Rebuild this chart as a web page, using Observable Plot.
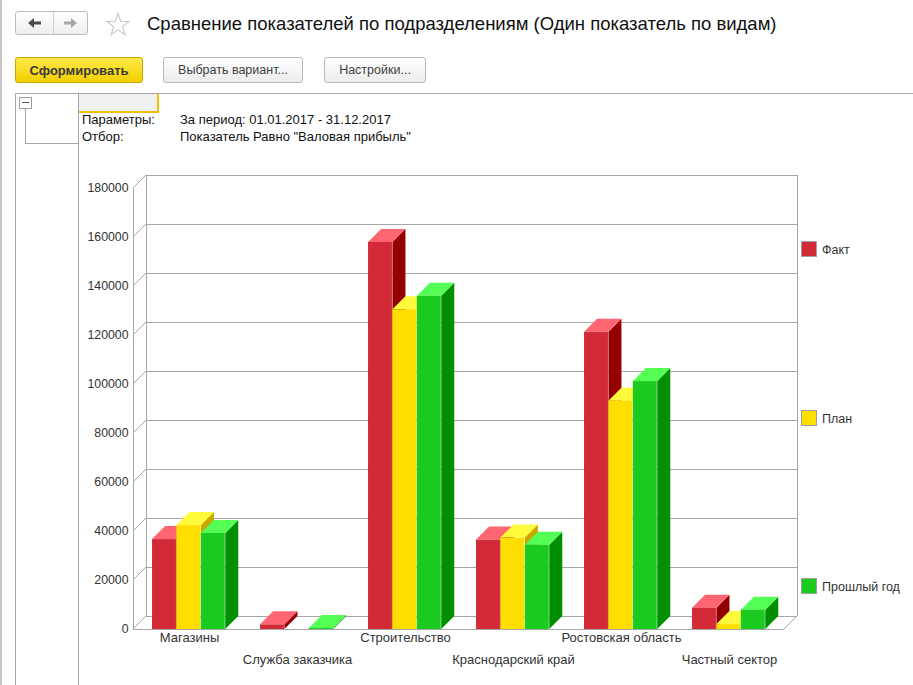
<!DOCTYPE html>
<html>
<head>
<meta charset="utf-8">
<script src="https://cdn.jsdelivr.net/npm/d3@7"></script>
<script src="https://cdn.jsdelivr.net/npm/@observablehq/plot@0.6"></script>
<style>
  html, body { margin: 0; padding: 0; background: #fff; }
  body { width: 913px; height: 685px; position: relative; overflow: hidden;
         font-family: "Liberation Sans", Arial, sans-serif; color: #333; }
  .abs { position: absolute; }
  .btn { position: absolute; border: 1px solid #b9b9b9; border-radius: 3px;
         background: linear-gradient(#ffffff, #ececec); font-size: 12.5px; color: #404040;
         display: flex; align-items: center; justify-content: center; box-sizing: border-box; height: 26px; }
  .btn.primary { background: linear-gradient(#ffe94a, #f3cf00); border-color: #c9a900; font-weight: bold; font-size: 13px; color: #3a3a3a; }
  .hl { position: absolute; height: 1px; background: #a6a6a6; }
  .vl { position: absolute; width: 1px; background: #a6a6a6; }
  .txt { position: absolute; font-size: 13px; line-height: 17px; color: #111; white-space: nowrap; }
  .leg { position: absolute; width: 16px; height: 16px; box-sizing: border-box; border: 1px solid #a0a0a0; }
  .legt { position: absolute; font-size: 12.5px; line-height: 16px; color: #333; white-space: nowrap; }
  #chart { position: absolute; left: 0; top: 160px; }
</style>
</head>
<body>
<div class="abs" style="left:0;top:0;width:2px;height:685px;background:#c6c6c6"></div>

<!-- navigation -->
<div class="abs" style="left:15px;top:11px;width:73px;height:24px;box-sizing:border-box;border:1px solid #bdbdbd;border-radius:3px;background:linear-gradient(#fff,#eeeeee)"></div>
<div class="abs" style="left:53px;top:12px;width:1px;height:22px;background:#d0d0d0"></div>
<svg class="abs" style="left:15px;top:11px" width="73" height="24">
  <path d="M13 12 L19 7 L19 10.5 L26 10.5 L26 13.5 L19 13.5 L19 17 Z" fill="#4a4a4a"/>
  <path d="M62 12 L56 7 L56 10.5 L49 10.5 L49 13.5 L56 13.5 L56 17 Z" fill="#a8a8a8"/>
</svg>
<svg class="abs" style="left:105px;top:12px" width="26" height="25">
  <path d="M13 1.5 L15.8 9.3 L24 9.5 L17.5 14.6 L19.9 22.6 L13 17.9 L6.1 22.6 L8.5 14.6 L2 9.5 L10.2 9.3 Z" fill="none" stroke="#c4c4c4" stroke-width="1.1"/>
</svg>
<div class="abs" style="left:147px;top:14px;font-size:18.5px;line-height:19px;color:#111;white-space:nowrap">Сравнение показателей по подразделениям (Один показатель по видам)</div>

<!-- buttons -->
<div class="btn primary" style="left:15px;top:57px;width:128px">Сформировать</div>
<div class="btn" style="left:163px;top:57px;width:140px">Выбрать вариант...</div>
<div class="btn" style="left:324px;top:57px;width:102px">Настройки...</div>

<!-- report frame -->
<div class="hl" style="left:15px;top:93px;width:898px"></div>
<div class="vl" style="left:15px;top:93px;height:592px"></div>
<div class="vl" style="left:78px;top:93px;height:592px"></div>
<div class="abs" style="left:79px;top:94px;width:78px;height:17px;background:#f1f1f1;border-right:2px solid #f7bd00;border-bottom:2px solid #f7bd00"></div>
<div class="abs" style="left:19px;top:97px;width:13px;height:12px;box-sizing:border-box;border:1px solid #a0a0a0;background:#fff"></div>
<div class="abs" style="left:22px;top:102px;width:7px;height:1px;background:#555"></div>
<div class="vl" style="left:25px;top:109px;height:34px"></div>
<div class="hl" style="left:25px;top:143px;width:53px"></div>

<div class="txt" style="left:82px;top:111px">Параметры:</div>
<div class="txt" style="left:180px;top:111px">За период: 01.01.2017 - 31.12.2017</div>
<div class="txt" style="left:82px;top:128px">Отбор:</div>
<div class="txt" style="left:180px;top:128px">Показатель Равно "Валовая прибыль"</div>

<div id="chart"></div>
<div id="legend"></div>

<script>
// ---- data ----
const categories = ["Магазины", "Служба заказчика", "Строительство", "Краснодарский край", "Ростовская область", "Частный сектор"];
const seriesNames = ["Факт", "План", "Прошлый год"];
const factValues = [36700, 1900, 158000, 36500, 121300, 8700];
const planValues = [42400, 0, 130500, 37300, 93200, 2000];
const prevValues = [39200, 400, 136000, 34400, 101200, 7900];
const yTicks = [0, 20000, 40000, 60000, 80000, 100000, 120000, 140000, 160000, 180000];

// ---- styles ----
const frontColors = ["#D22A36", "#FFDF00", "#1BCB1F"];
const topColors = ["#FF6672", "#FFFB3C", "#55FF55"];
const sideColors = ["#940000", "#C9A600", "#008F00"];
const legendTops = [241, 410, 578];

const seriesValues = [factValues, planValues, prevValues];
const W = 913, H = 525, ML = 133, MR = 129, MT = 28, MB = 56;
const D = 13;                 // depth offset (px)
const bandW = (W - ML - MR) / categories.length;
const padL = bandW * 0.157;   // gap before first bar in a band
const barW = bandW * 0.225;   // bar width
const gridColor = "#a6a6a6";

const tables = seriesValues.map(vals => categories.map((c, i) => ({category: c, value: vals[i]})));

function decorations(index, scales, values, dims) {
  const {y} = scales;
  const g = d3.create("svg:g").attr("stroke", gridColor).attr("fill", "none");
  const x0 = dims.marginLeft, x1 = dims.width - dims.marginRight;
  const y0 = y(0), yMax = y(yTicks[yTicks.length - 1]);
  g.append("line").attr("x1", x0 + D + 0.5).attr("x2", x0 + D + 0.5).attr("y1", y0 - D).attr("y2", yMax - D);
  g.append("line").attr("x1", x1 + D + 0.5).attr("x2", x1 + D + 0.5).attr("y1", y0 - D).attr("y2", yMax - D);
  g.append("line").attr("x1", x0 + 0.5).attr("x2", x0 + 0.5).attr("y1", y0).attr("y2", yMax);
  g.append("line").attr("x1", x0).attr("x2", x1).attr("y1", y0 + 0.5).attr("y2", y0 + 0.5);
  g.append("line").attr("x1", x1).attr("x2", x1 + D).attr("y1", y0).attr("y2", y0 - D);
  for (const t of yTicks) {
    g.append("line").attr("x1", x0).attr("x2", x0 + D).attr("y1", y(t)).attr("y2", y(t) - D);
  }
  return g.node();
}

function depthFaces(index, scales, values, dims) {
  const {x, y} = scales;
  const g = d3.create("svg:g");
  const sides = g.append("g"), tops = g.append("g");
  const yb = y(0);
  categories.forEach((c, i) => {
    seriesValues.forEach((vals, k) => {
      const v = vals[i];
      if (!v) return;
      const xa = x(c) + padL + k * barW, xb = xa + barW, yt = y(v);
      sides.append("polygon")
        .attr("points", [[xb, yt], [xb + D, yt - D], [xb + D, yb - D], [xb, yb]].join(" "))
        .attr("fill", sideColors[k]);
      tops.append("polygon")
        .attr("points", [[xa, yt], [xb, yt], [xb + D, yt - D], [xa + D, yt - D]].join(" "))
        .attr("fill", topColors[k]);
    });
  });
  return g.node();
}

const marks = [
  Plot.ruleY(yTicks, {y: d => d, dx: D, dy: -D, stroke: gridColor}),
  decorations,
  depthFaces,
  ...tables.map((tab, k) => Plot.barY(tab, {
    x: "category", y: "value", fill: frontColors[k],
    insetLeft: padL + k * barW, insetRight: bandW - padL - (k + 1) * barW
  })),
  Plot.text(yTicks, {y: d => d, text: d => String(d), frameAnchor: "left", textAnchor: "end", dx: -5, fill: "#333", fontSize: 12.3}),
  Plot.text(categories, {filter: (d, i) => i % 2 === 0, x: d => d, text: d => d, frameAnchor: "bottom", dy: 12, fill: "#333", fontSize: 13}),
  Plot.text(categories, {filter: (d, i) => i % 2 === 1, x: d => d, text: d => d, frameAnchor: "bottom", dy: 34, fill: "#333", fontSize: 13})
];

const chart = Plot.plot({
  width: W, height: H,
  marginLeft: ML, marginRight: MR, marginTop: MT, marginBottom: MB,
  x: {type: "band", domain: categories, padding: 0, axis: null},
  y: {domain: [0, 180000], axis: null},
  style: {background: "transparent", fontSize: "12px", fontFamily: "'Liberation Sans', Arial, sans-serif", color: "#333", overflow: "visible"},
  marks
});
document.getElementById("chart").appendChild(chart);

// legend
const leg = document.getElementById("legend");
seriesNames.forEach((name, k) => {
  const sq = document.createElement("div");
  sq.className = "leg";
  sq.style.left = "801px"; sq.style.top = legendTops[k] + "px"; sq.style.background = frontColors[k];
  leg.appendChild(sq);
  const t = document.createElement("div");
  t.className = "legt";
  t.style.left = "822px"; t.style.top = (legendTops[k] + 1) + "px";
  t.textContent = name;
  leg.appendChild(t);
});
</script>
</body>
</html>
